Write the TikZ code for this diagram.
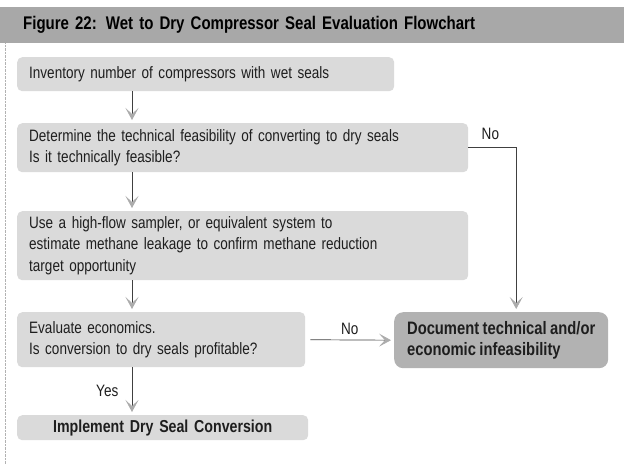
\documentclass[tikz,border=0pt]{standalone}
\usepackage{fontspec}
\usepackage{tikz}
\usetikzlibrary{arrows.meta}
\setmainfont{Liberation Sans}[FakeStretch=0.82, WordSpace=0.85]
\definecolor{boxgray}{RGB}{218, 218, 218}
\definecolor{bargray}{RGB}{168, 168, 168}
\definecolor{darkbox}{RGB}{178, 178, 178}
\definecolor{inkgray}{RGB}{30, 30, 30}

\tikzset{
  stepbox/.style={fill=boxgray, rounded corners=5pt, anchor=north west, align=left,
    inner xsep=12pt, text=inkgray, font=\fontsize{16.5}{21.5}\selectfont},
  endbox/.style={stepbox, fill=darkbox, rounded corners=9pt, inner xsep=11pt,
    font=\bfseries\fontsize{18}{21.5}\selectfont},
  flow/.style={draw=inkgray!85, line width=0.7pt, shorten >=3pt,
    -{Stealth[length=12pt, width=13pt, inset=6pt, color=gray!65, fill=gray!65]}},
  tag/.style={text=inkgray, font=\fontsize{16.5}{18}\selectfont}
}

\begin{document}
\begin{tikzpicture}[x=1pt, y=-1pt]
  \useasboundingbox (0,0) rectangle (624,464);
  % title bar and frame
  \node[fill=bargray, anchor=north west, minimum width=624pt, minimum height=36pt,
    inner xsep=23pt, text width=578pt, font=\bfseries\fontsize{18.3}{20}\selectfont] (title) at (0,7)
    {Figure 22: Wet to Dry Compressor Seal Evaluation Flowchart};
  \draw[gray!60, densely dotted] (title.south west) ++(5,0) -- (5,464);

  % steps
  \node[stepbox, text width=353pt, minimum height=34pt] (inv) at (17,57)
    {Inventory number of compressors with wet seals};
  \node[stepbox, text width=427pt, minimum height=49pt] (tech) at (17,123)
    {Determine the technical feasibility of converting to dry seals\\Is it technically feasible?};
  \node[stepbox, text width=427pt, minimum height=69pt] (leak) at (17,211)
    {Use a high-flow sampler, or equivalent system to\\estimate methane leakage to confirm methane reduction\\target opportunity};
  \node[stepbox, text width=264pt, minimum height=55pt] (econ) at (17,312)
    {Evaluate economics.\\Is conversion to dry seals profitable?};
  \node[endbox, minimum width=214pt, minimum height=56pt] (doc) at (394,312)
    {Document technical and/or\\economic infeasibility};
  \node[stepbox, align=center, text width=267pt, minimum height=25pt,
    font=\bfseries\fontsize{17.3}{19}\selectfont] (impl) at (17,415)
    {Implement Dry Seal Conversion};

  % connectors
  \draw[flow] ([xshift=115pt]inv.south west) -- ([xshift=115pt]tech.north west);
  \draw[flow] ([xshift=115pt]tech.south west) -- ([xshift=115pt]leak.north west);
  \draw[flow] ([xshift=115pt]leak.south west) -- ([xshift=115pt]econ.north west);
  \draw[flow] ([xshift=115pt]econ.south west) -- ([xshift=115pt]impl.north west)
    node[tag, midway, left=10pt] {Yes};
  \draw[flow, shorten <=5pt] (econ.east) -- (doc.west)
    node[tag, midway, above=2pt] {No};
  \draw[flow] (tech.east) -| ([xshift=15pt]doc.north)
    node[tag, pos=0.23, above=4pt] {No};
\end{tikzpicture}
\end{document}
